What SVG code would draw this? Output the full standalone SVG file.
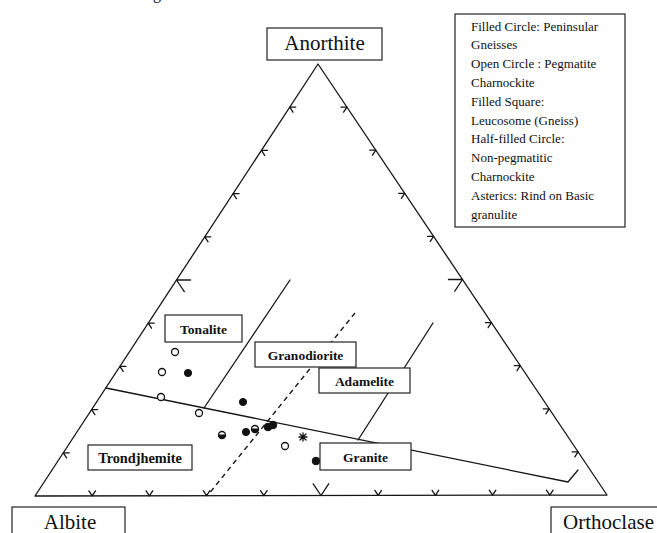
<svg xmlns="http://www.w3.org/2000/svg" xmlns:xlink="http://www.w3.org/1999/xlink" width="657" height="533" viewBox="0 0 657 533">
<style>
.ln{stroke:#151515;stroke-width:1.3;fill:none;stroke-linecap:round;stroke-linejoin:round}
.dash{stroke:#151515;stroke-width:1.4;fill:none;stroke-dasharray:5,4}
.box{fill:#fff;stroke:#222;stroke-width:1.2}
.big{font-family:"Liberation Serif","Times New Roman",serif;font-size:21px;fill:#111}
.lab{font-family:"Liberation Serif","Times New Roman",serif;font-size:13.5px;font-weight:bold;fill:#111}
.leg{font-family:"Liberation Serif","Times New Roman",serif;font-size:13px;fill:#111}
.fc{fill:#111;stroke:#111;stroke-width:1}
.oc{fill:#fff;stroke:#111;stroke-width:1.3}
</style>
<defs>
<path id="tL" class="ln" d="M6,0 H0 L3.3,5"/>
<path id="tLb" class="ln" d="M14,0 H0 L7.8,11.6"/>
<path id="tR" class="ln" d="M-6,0 H0 L-3.3,5"/>
<path id="tRb" class="ln" d="M-14,0 H0 L-7.7,11.7"/>
<path id="tB" class="ln" d="M-3.3,-5 L0,0 L3.3,-5"/>
<path id="tBb" class="ln" d="M-7.8,-11.6 L0,0 L7.7,-11.7"/>
</defs>
<rect width="657" height="533" fill="#fff"/>
<text x="153" y="-1" class="big" style="font-size:16px">g</text>

<g id="triangle">
<path class="ln" d="M35,496 L318,64 L607,495 Z"/>
<g id="ticks-left">
<use xlink:href="#tL" x="63.3" y="452.8"/>
<use xlink:href="#tL" x="91.6" y="409.6"/>
<use xlink:href="#tL" x="119.9" y="366.4"/>
<use xlink:href="#tL" x="148.2" y="323.2"/>
<use xlink:href="#tLb" x="176.5" y="280"/>
<use xlink:href="#tL" x="204.8" y="236.8"/>
<use xlink:href="#tL" x="233.1" y="193.6"/>
<use xlink:href="#tL" x="261.4" y="150.4"/>
<use xlink:href="#tL" x="289.7" y="107.2"/>
</g>
<g id="ticks-right">
<use xlink:href="#tR" x="346.9" y="107.1"/>
<use xlink:href="#tR" x="375.8" y="150.2"/>
<use xlink:href="#tR" x="404.7" y="193.3"/>
<use xlink:href="#tR" x="433.6" y="236.4"/>
<use xlink:href="#tRb" x="462.5" y="279.5"/>
<use xlink:href="#tR" x="491.4" y="322.6"/>
<use xlink:href="#tR" x="520.3" y="365.7"/>
<use xlink:href="#tR" x="549.2" y="408.8"/>
<use xlink:href="#tR" x="578.1" y="451.9"/>
</g>
<g id="ticks-bottom">
<use xlink:href="#tB" x="92.2" y="495.9"/>
<use xlink:href="#tB" x="149.4" y="495.8"/>
<use xlink:href="#tB" x="206.6" y="495.7"/>
<use xlink:href="#tB" x="263.8" y="495.6"/>
<use xlink:href="#tBb" x="321" y="495.5"/>
<use xlink:href="#tB" x="378.2" y="495.4"/>
<use xlink:href="#tB" x="435.4" y="495.3"/>
<use xlink:href="#tB" x="492.6" y="495.2"/>
<use xlink:href="#tB" x="549.8" y="495.1"/>
</g>
</g>

<g id="connectors">
<path class="ln" d="M106,388 L568,482 L578,470"/>
<path class="ln" d="M290,280 L204,408"/>
<path class="dash" d="M355,313 L208,495"/>
<path class="ln" d="M433,323 L358,440"/>
</g>

<g id="points">
<circle class="oc" cx="175" cy="352" r="3.5"/>
<circle class="oc" cx="162" cy="372" r="3.5"/>
<circle class="fc" cx="188" cy="373" r="3.6"/>
<circle class="oc" cx="161" cy="397" r="3.5"/>
<circle class="fc" cx="243" cy="402" r="3.6"/>
<circle class="oc" cx="199" cy="413" r="3.5"/>
<g><circle class="oc" cx="222" cy="435" r="3.5"/><path class="fc" d="M218.5,435 A3.5,3.5 0 0 0 225.5,435 Z"/></g>
<circle class="fc" cx="246" cy="432" r="3.6"/>
<g><circle class="oc" cx="255" cy="429" r="3.5"/><path class="fc" d="M251.5,429 A3.5,3.5 0 0 0 258.5,429 Z"/></g>
<circle class="fc" cx="268" cy="427" r="3.8"/>
<circle class="fc" cx="273" cy="425" r="3.8"/>
<circle class="oc" cx="285" cy="446" r="3.5"/>
<path class="ln" d="M299,437 H307 M303,433 V441 M300,434 L306,440 M306,434 L300,440"/>
<circle class="fc" cx="316" cy="461" r="3.8"/>
</g>

<g id="anorthite">
<rect class="box" x="267" y="28" width="115" height="32"/>
<text class="big" x="324.5" y="50" text-anchor="middle">Anorthite</text>
</g>
<g id="albite">
<rect class="box" x="12" y="507" width="113" height="40"/>
<text class="big" x="70" y="529" text-anchor="middle">Albite</text>
</g>
<g id="orthoclase">
<rect class="box" x="551" y="507" width="120" height="40"/>
<text class="big" x="563" y="529">Orthoclase</text>
</g>

<g id="tonalite">
<rect class="box" x="165" y="315" width="77" height="27"/>
<text class="lab" x="203.5" y="333.5" text-anchor="middle">Tonalite</text>
</g>
<g id="granodiorite">
<rect class="box" x="255" y="342" width="101" height="25"/>
<text class="lab" x="305.5" y="359.5" text-anchor="middle">Granodiorite</text>
</g>
<g id="adamelite">
<rect class="box" x="319" y="368" width="91" height="25"/>
<text class="lab" x="364.5" y="385.5" text-anchor="middle">Adamelite</text>
</g>
<g id="granite">
<rect class="box" x="320" y="443" width="91" height="27"/>
<text class="lab" x="365.5" y="461.5" text-anchor="middle">Granite</text>
</g>
<g id="trondjhemite">
<rect class="box" x="88" y="445" width="104" height="25"/>
<text class="lab" x="140" y="462.5" text-anchor="middle" style="font-size:14.3px">Trondjhemite</text>
</g>

<g id="legend">
<rect class="box" x="455" y="14" width="170" height="213"/>
<text class="leg" x="471" y="30.5">Filled Circle: Peninsular</text>
<text class="leg" x="471" y="49.3">Gneisses</text>
<text class="leg" x="471" y="68.1">Open Circle : Pegmatite</text>
<text class="leg" x="471" y="86.9">Charnockite</text>
<text class="leg" x="471" y="105.7">Filled Square:</text>
<text class="leg" x="471" y="124.5">Leucosome (Gneiss)</text>
<text class="leg" x="471" y="143.3">Half-filled Circle:</text>
<text class="leg" x="471" y="162.1">Non-pegmatitic</text>
<text class="leg" x="471" y="180.9">Charnockite</text>
<text class="leg" x="471" y="199.7">Asterics: Rind on Basic</text>
<text class="leg" x="471" y="218.5">granulite</text>
</g>
</svg>
